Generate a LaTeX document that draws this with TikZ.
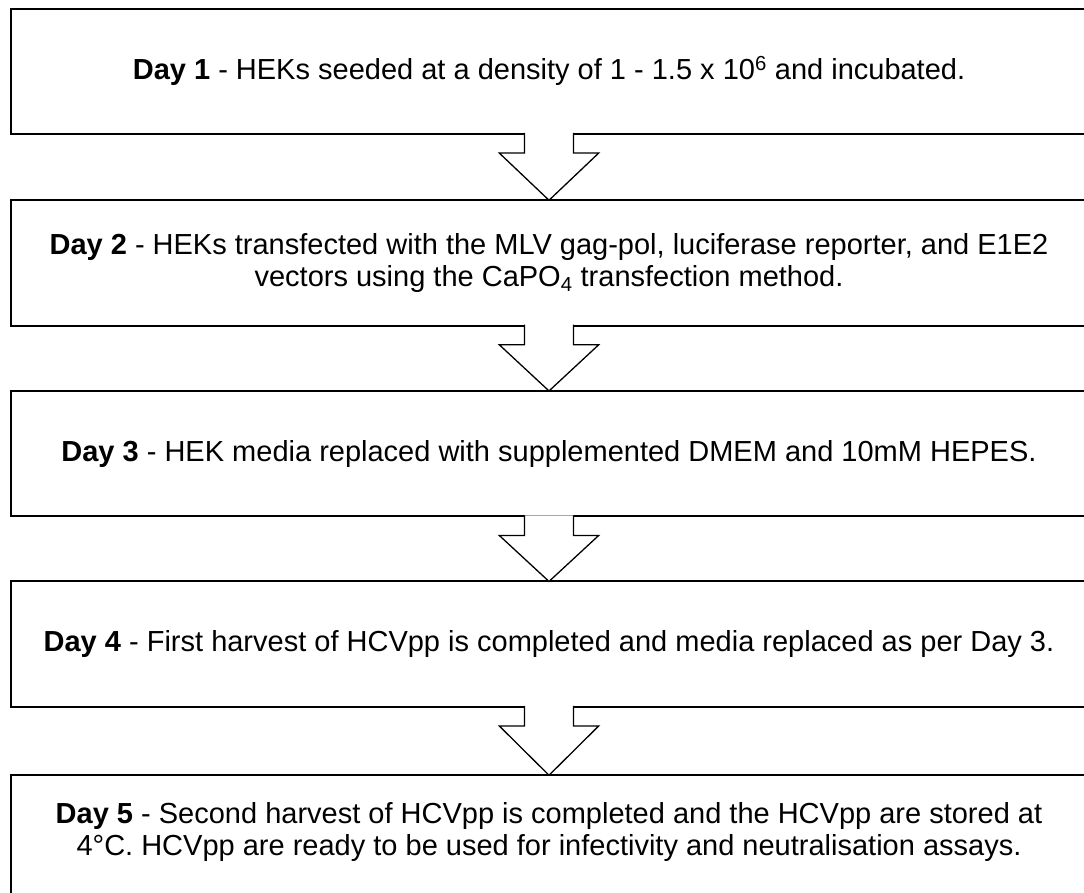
\documentclass[tikz,border=0pt]{standalone}
\usepackage{fontspec}
\setmainfont{Liberation Sans}
\usetikzlibrary{calc}
\tikzset{
  stepbox/.style={draw=black, line width=2pt, fill=white, rectangle, outer sep=0pt,
    minimum width=1076.6pt, minimum height=125.5pt, inner sep=0pt, align=center,
    font=\fontsize{29}{32}\selectfont},
  steptext/.style={inner sep=0pt, align=center, font=\fontsize{29}{32}\selectfont},
  flowarrow/.style={draw=black, line width=1.3pt, fill=white, line join=miter},
}
\newcommand\stepconn[2]{%
  \draw[flowarrow] ($(#1.south)+(-24.5,-1.2)$) -- ($(#1.south)+(-24.5,19)$)
    -- ($(#1.south)+(-49.7,19)$) -- (#2.north) -- ($(#1.south)+(49.7,19)$)
    -- ($(#1.south)+(24.5,19)$) -- ($(#1.south)+(24.5,-1.2)$);}
\begin{document}
\begin{tikzpicture}[x=1pt,y=-1pt]
\useasboundingbox (0,0) rectangle (1084,892);
\clip (0,0) rectangle (1084,892);
\fill[white] (0,0) rectangle (1084,892);
\node[stepbox] (b1) at (549,71.3) {\textbf{Day 1} - HEKs seeded at a density of 1 - 1.5 x 10\textsuperscript{6} and incubated.};
\node[stepbox] (b2) at (549,263) {\textbf{Day 2} - HEKs transfected with the MLV gag-pol, luciferase reporter, and E1E2\\vectors using the CaPO\textsubscript{4} transfection method.};
\node[stepbox] (b3) at (549,453.7) {\textbf{Day 3} - HEK media replaced with supplemented DMEM and 10mM HEPES.};
\node[stepbox] (b4) at (549,644.2) {\textbf{Day 4} - First harvest of HCVpp is completed and media replaced as per Day 3.};
\node[stepbox] (b5) at (549,838) {};
\node[steptext] (t5) at (549,832) {\textbf{Day 5} - Second harvest of HCVpp is completed and the HCVpp are stored at\\4°C. HCVpp are ready to be used for infectivity and neutralisation assays.};
\stepconn{b1}{b2}
\stepconn{b2}{b3}
\stepconn{b3}{b4}
\stepconn{b4}{b5}
\end{tikzpicture}
\end{document}
